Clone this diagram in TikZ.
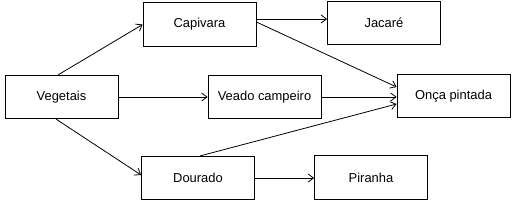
\documentclass[tikz,border=0pt]{standalone}
\usepackage{fontspec}
\setmainfont{Liberation Sans}
\usetikzlibrary{arrows.meta,calc}
\begin{document}
\begin{tikzpicture}[x=0.75pt,y=-0.75pt,
  box/.style={draw,line width=0.6pt,inner sep=0pt,minimum width=84.75pt,minimum height=32.5pt,font=\fontsize{9.7}{11}\selectfont},
  arr/.style={line width=0.6pt,-{Straight Barb[length=4pt,width=6pt,line width=0.6pt]}}]
\useasboundingbox (0,0) rectangle (512,201);
\node[box] (cap) at (199.5,24.5) {Capivara};
\node[box] (jac) at (384,23) {Jacaré};
\node[box] (veg) at (61.5,97) {Vegetais};
\node[box] (vea) at (264.5,97) {Veado campeiro};
\node[box] (onc) at (453.5,96) {Onça pintada};
\node[box] (dou) at (198,178) {Dourado};
\node[box] (pir) at (371,177.5) {Piranha};
\draw[arr] ($(veg.north)+(-3.5,0)$) -- (cap.west);
\draw[arr] (veg.east) -- (vea.west);
\draw[arr] ($(veg.south)+(-5.5,0)$) -- ($(dou.west)+(0,-3)$);
\draw[arr] ($(cap.east)+(0,-5.5)$) -- ($(jac.west)+(0,-4)$);
\draw[arr] ($(cap.east)+(0,-2.5)$) -- ($(onc.west)+(0,-9)$);
\draw[arr] (vea.east) -- (vea.east -| onc.west);
\draw[arr] ($(dou.north)+(2,0)$) -- ($(onc.west)+(0,8)$);
\draw[arr] (dou.east) -- (dou.east -| pir.west);
\end{tikzpicture}
\end{document}
